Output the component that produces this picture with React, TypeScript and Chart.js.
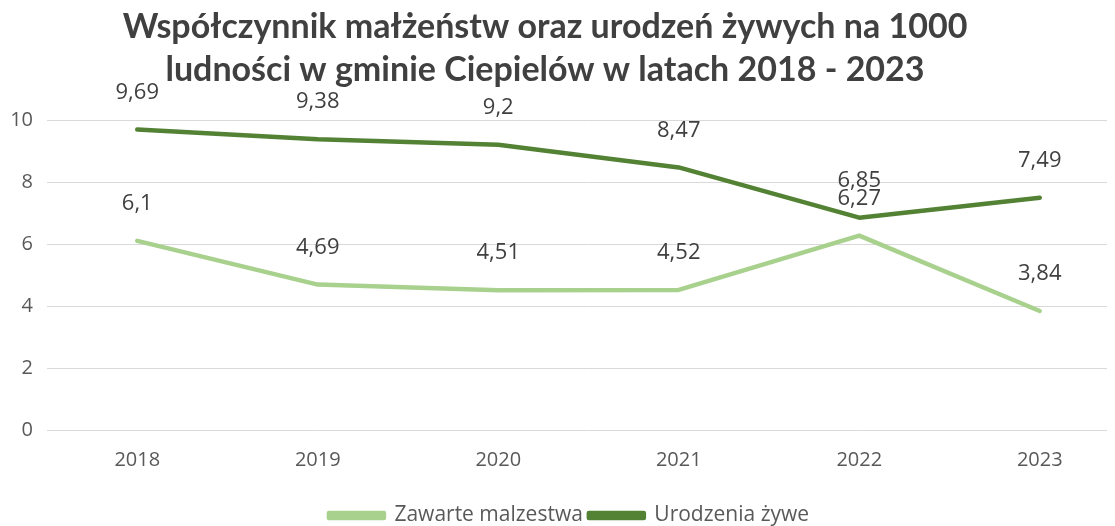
import React, { useEffect, useRef } from "react";
import { Chart, registerables } from "chart.js";

Chart.register(...registerables);

const years = ["2018", "2019", "2020", "2021", "2022", "2023"];
const marriages = [6.1, 4.69, 4.51, 4.52, 6.27, 3.84];
const births = [9.69, 9.38, 9.2, 8.47, 6.85, 7.49];
const titleLines = [
  "Współczynnik małżeństw oraz urodzeń żywych na 1000",
  "ludności w gminie Ciepielów w latach 2018 - 2023",
];
const seriesNames = ["Zawarte malzestwa", "Urodzenia żywe"];

const FONT = "'Open Sans', sans-serif";

const titlePlugin = {
  id: "customTitle",
  afterDraw(chart: any) {
    const ctx = chart.ctx;
    ctx.save();
    ctx.font = `bold 34px Lato, ${FONT}`;
    ctx.fillStyle = "#404040";
    ctx.textAlign = "center";
    ctx.textBaseline = "alphabetic";
    ctx.fillText(titleLines[0], 537, 30);
    ctx.fillText(titleLines[1], 537, 73);
    ctx.restore();
  },
};

const labelPlugin = {
  id: "dataLabels",
  afterDatasetsDraw(chart: any) {
    const ctx = chart.ctx;
    ctx.save();
    ctx.font = `22px ${FONT}`;
    ctx.fillStyle = "#404040";
    ctx.textAlign = "center";
    ctx.textBaseline = "middle";
    chart.data.datasets.forEach((ds: any, i: number) => {
      const meta = chart.getDatasetMeta(i);
      meta.data.forEach((pt: any, j: number) => {
        const v = ds.data[j];
        ctx.fillText(String(v).replace(".", ","), pt.x, pt.y - 37);
      });
    });
    ctx.restore();
  },
};

export default function App() {
  const ref = useRef<HTMLCanvasElement>(null);
  useEffect(() => {
    if (!ref.current) return;
    const chart = new Chart(ref.current, {
      type: "line",
      data: {
        labels: years,
        datasets: [
          {
            label: seriesNames[0],
            data: marriages,
            borderColor: "#a9d18e",
            backgroundColor: "#a9d18e",
            borderWidth: 4.5,
            pointRadius: 0,
            tension: 0,
            borderCapStyle: "round",
            borderJoinStyle: "round",
          },
          {
            label: seriesNames[1],
            data: births,
            borderColor: "#548235",
            backgroundColor: "#548235",
            borderWidth: 4.5,
            pointRadius: 0,
            tension: 0,
            borderCapStyle: "round",
            borderJoinStyle: "round",
          },
        ],
      },
      options: {
        animation: false,
        responsive: false,
        layout: { padding: { top: 112, right: 10, left: 0, bottom: 0 } },
        plugins: {
          title: { display: false },
          tooltip: { enabled: false },
          legend: {
            position: "bottom",
            labels: {
              boxWidth: 55,
              boxHeight: 5,
              color: "#595959",
              font: { family: FONT, size: 21 },
              padding: 6,
            },
          },
        },
        scales: {
          x: {
            offset: true,
            afterFit: (s: any) => {
              s.height = 69;
            },
            grid: { display: false, drawTicks: false, offset: true },
            border: { display: false },
            ticks: { color: "#595959", font: { family: FONT, size: 20 }, padding: 18 },
          },
          y: {
            min: 0,
            max: 10,
            afterFit: (s: any) => {
              s.width = 39;
            },
            grid: { color: "#d9d9d9", drawTicks: false, lineWidth: 1 },
            border: { display: false },
            ticks: { stepSize: 2, color: "#595959", font: { family: FONT, size: 20 }, padding: 14 },
          },
        },
      },
      plugins: [titlePlugin, labelPlugin],
    });
    return () => chart.destroy();
  }, []);
  return (
    <div style={{ width: 1107, height: 518, overflow: "hidden" }}>
      <canvas ref={ref} width={1132} height={528} style={{ width: 1132, height: 528, display: "block" }} />
    </div>
  );
}
